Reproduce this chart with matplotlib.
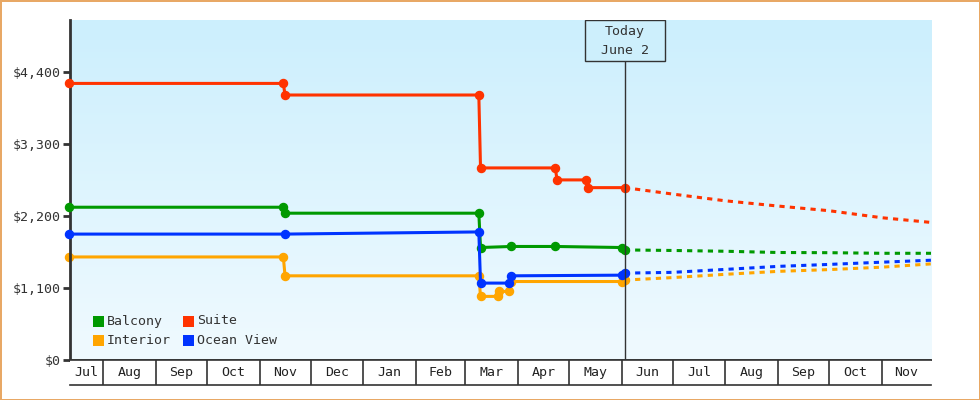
import numpy as np
import matplotlib
matplotlib.use('Agg')
import matplotlib.pyplot as plt
import matplotlib.dates as mdates
from matplotlib.patches import Rectangle
from matplotlib.transforms import blended_transform_factory
from datetime import datetime, timedelta

# observed prices
balcony_dates = ['2023-07-12', '2023-11-15', '2023-11-16', '2024-03-09', '2024-03-10',
                 '2024-03-28', '2024-04-23', '2024-06-01', '2024-06-02T20:00']
balcony_prices = [2332, 2332, 2241, 2241, 1717, 1733, 1733, 1717, 1680]

suite_dates = ['2023-07-12', '2023-11-15', '2023-11-16', '2024-03-09', '2024-03-10',
               '2024-04-23', '2024-04-24', '2024-05-11', '2024-05-12', '2024-06-02T20:00']
suite_prices = [4222, 4222, 4045, 4045, 2932, 2932, 2749, 2749, 2631, 2631]

interior_dates = ['2023-07-12', '2023-11-15', '2023-11-16', '2024-03-09', '2024-03-10',
                  '2024-03-20', '2024-03-21', '2024-03-27', '2024-03-28', '2024-06-01',
                  '2024-06-02T20:00']
interior_prices = [1573, 1573, 1285, 1285, 971, 971, 1047, 1047, 1198, 1198, 1220]

ocean_dates = ['2023-07-12', '2023-11-16', '2024-03-09', '2024-03-10', '2024-03-27',
               '2024-03-28', '2024-06-01', '2024-06-02T20:00']
ocean_prices = [1922, 1922, 1955, 1174, 1174, 1285, 1295, 1326]

# forecast
forecast_dates = ['2024-06-02T20:00', '2024-07-01', '2024-08-01', '2024-09-01',
                  '2024-10-01', '2024-11-01', '2024-11-30']
balcony_fc = [1680, 1672, 1660, 1641, 1638, 1629, 1629]
suite_fc = [2631, 2533, 2430, 2350, 2279, 2172, 2100]
interior_fc = [1220, 1258, 1308, 1353, 1380, 1417, 1467]
ocean_fc = [1326, 1338, 1383, 1429, 1459, 1493, 1523]

today = '2024-06-02T20:00'
today_label = 'Today\nJune 2'
yticks = [0, 1100, 2200, 3300, 4400]

colors = {'Balcony': '#009900', 'Suite': '#ff3300', 'Interior': '#ffa500', 'Ocean View': '#0033ff'}

def to_dt(lst):
    return [datetime.fromisoformat(s) for s in lst]

W, H = 980, 400
plt.rcParams['font.family'] = ['DejaVu Sans Mono']
fs = 9.5
dark = '#333333'

fig = plt.figure(figsize=(W / 100, H / 100), dpi=100)
fig.patch.set_facecolor('white')
fig.patch.set_edgecolor('#e8a865')
fig.patch.set_linewidth(2)

L, R, T, B = 70, 931, 20, 360
ax = fig.add_axes([L / W, 1 - B / H, (R - L) / W, (B - T) / H])
x0 = datetime(2023, 7, 12, 12)
x1 = datetime(2024, 11, 30)
ax.set_xlim(x0, x1)
ax.set_ylim(0, 5190)

# gradient background
grad = np.linspace(0, 1, 256).reshape(-1, 1)
top = np.array([0xcc, 0xef, 0xfd]) / 255
bot = np.array([0xf0, 0xfa, 0xff]) / 255
img = top[None, None, :] * (1 - grad[:, :, None]) + bot[None, None, :] * grad[:, :, None]
ax.imshow(img, aspect='auto', extent=[0, 1, 0, 1], transform=ax.transAxes, zorder=0)

lw = 2.2
series = [('Interior', interior_dates, interior_prices, interior_fc, 2),
          ('Balcony', balcony_dates, balcony_prices, balcony_fc, 3),
          ('Suite', suite_dates, suite_prices, suite_fc, 3),
          ('Ocean View', ocean_dates, ocean_prices, ocean_fc, 4)]
for name, ds, ps, fc, z in series:
    c = colors[name]
    ax.plot(to_dt(forecast_dates), fc, color=c, lw=lw, linestyle=(0, (1.7, 1.7)), zorder=z)
    ax.plot(to_dt(ds), ps, color=c, lw=lw, marker='o', markersize=5.8, zorder=z + 0.5,
            clip_on=False)

# today marker
td = datetime.fromisoformat(today)
trans = blended_transform_factory(ax.transData, ax.transAxes)
box_h = 41 / (B - T)
half = timedelta(days=40 / 1.703)
ax.plot([td, td], [0, 1 - box_h], color=dark, lw=1, transform=trans, zorder=6)
ax.add_patch(Rectangle((mdates.date2num(td - half), 1 - box_h),
                       mdates.date2num(td + half) - mdates.date2num(td - half), box_h,
                       transform=trans, facecolor='#cdeffc', edgecolor=dark, lw=1, zorder=6))
for i, line in enumerate(today_label.split('\n')):
    ax.text(td, 1 - (12 + 18 * i) / (B - T), line, transform=trans, ha='center', va='center',
            fontsize=fs, color=dark, zorder=7)

# axes styling
for s in ['top', 'right']:
    ax.spines[s].set_visible(False)
ax.spines['left'].set_color(dark)
ax.spines['left'].set_linewidth(2)
ax.spines['bottom'].set_color(dark)
ax.spines['bottom'].set_linewidth(1.2)
ax.set_xticks([])
ax.set_yticks(yticks)
ax.set_yticklabels(['$' + format(v, ',') for v in yticks])
ax.tick_params(axis='y', length=5, width=2, color=dark, labelsize=fs, labelcolor=dark, pad=2)

# legend
def fig_sq(px, py, c):
    fig.add_artist(Rectangle(((px - 5.5) / W, 1 - (py + 5.5) / H), 11 / W, 11 / H,
                             transform=fig.transFigure, facecolor=c, edgecolor='none'))

legend_items = [('Balcony', 98.5, 321), ('Suite', 188.7, 321),
                ('Interior', 98.5, 340.5), ('Ocean View', 188.7, 340.5)]
for name, px, py in legend_items:
    fig_sq(px, py, colors[name])
    fig.text((px + 8) / W, 1 - py / H, name, fontsize=fs, color=dark, va='center', ha='left')

# month boxes
bx = fig.add_axes([L / W, 1 - 385 / H, (R - L) / W, 25 / H], facecolor='white')
bx.set_xlim(x0, x1)
bx.set_ylim(0, 1)
bx.set_xticks([])
bx.set_yticks([])
for s in ['left', 'right']:
    bx.spines[s].set_visible(False)
for s in ['top', 'bottom']:
    bx.spines[s].set_color(dark)
    bx.spines[s].set_linewidth(1.2)
bounds = [x0]
m = datetime(2023, 8, 1)
while m < x1:
    bounds.append(m)
    m = datetime(m.year + (m.month == 12), m.month % 12 + 1, 1)
bounds.append(x1)
for b in bounds[1:-1]:
    bx.axvline(b, color=dark, lw=1.2)
for a, b in zip(bounds[:-1], bounds[1:]):
    mid = a + (b - a) / 2
    label = (a + timedelta(days=1)).strftime('%b')
    bx.text(mid, 0.5, label, ha='center', va='center', fontsize=fs, color='#222222')

fig.savefig('out.png', dpi=100)
